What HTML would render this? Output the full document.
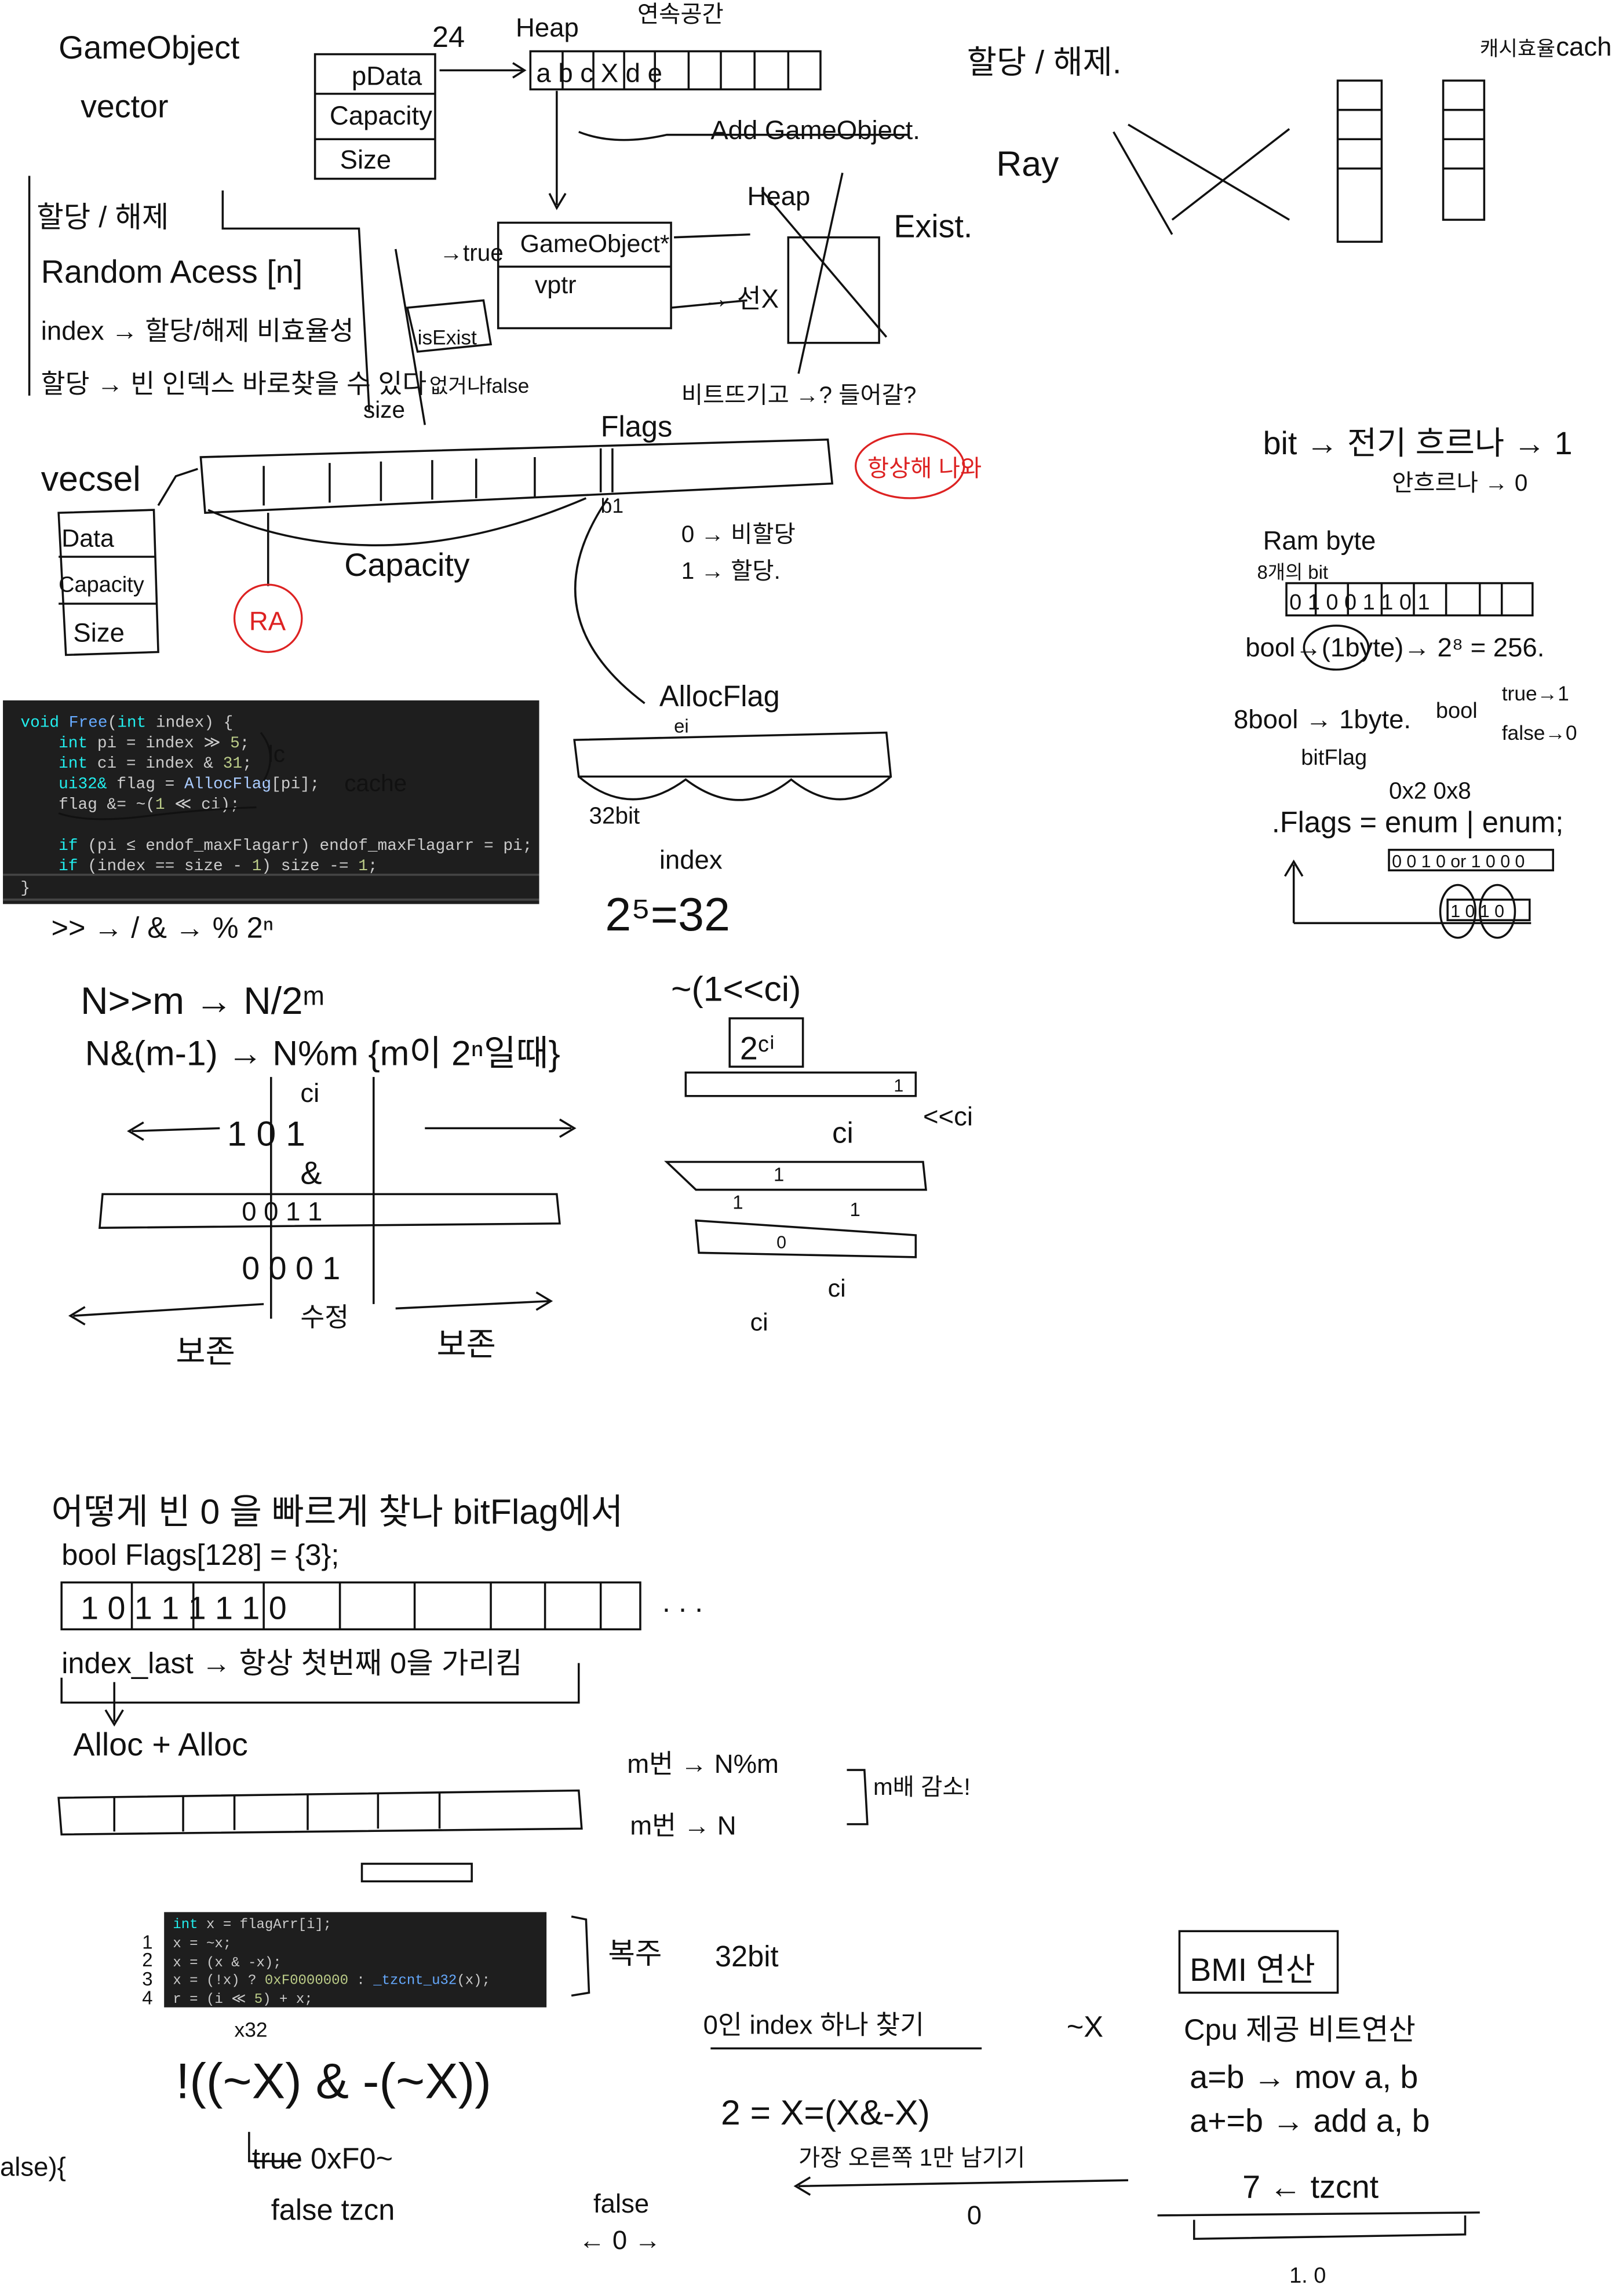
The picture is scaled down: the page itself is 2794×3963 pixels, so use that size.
<!DOCTYPE html>
<html><head><meta charset="utf-8">
<style>
html,body{margin:0;padding:0;background:#fff;}
svg{display:block;}
text{font-family:"Liberation Sans","Noto Sans CJK KR",sans-serif;}
.c text{font-family:"Liberation Mono","DejaVu Sans Mono",monospace;}
</style></head><body>
<svg width="2794" height="3963" viewBox="0 0 1105 1567" preserveAspectRatio="none" xmlns="http://www.w3.org/2000/svg">
<rect width="1105" height="1567" fill="#fff"/>
<g fill="none" stroke="#111" stroke-width="1.4">
<rect x="215" y="37" width="82" height="85"/>
<line x1="215" y1="64" x2="297" y2="64"/><line x1="215" y1="95" x2="297" y2="95"/>
<rect x="362" y="35" width="198" height="26"/>
<line x1="384" y1="35" x2="384" y2="61"/><line x1="405" y1="35" x2="405" y2="61"/><line x1="426" y1="35" x2="426" y2="61"/><line x1="447" y1="35" x2="447" y2="61"/><line x1="470" y1="35" x2="470" y2="61"/><line x1="492" y1="35" x2="492" y2="61"/><line x1="515" y1="35" x2="515" y2="61"/><line x1="538" y1="35" x2="538" y2="61"/>
<path d="M300 48 L358 48 M350 43 L358 48 L350 53"/>
<path d="M380 62 L380 140 M375 132 L380 142 L386 132"/>
<path d="M395 90 Q420 100 455 92 L620 92"/>
<rect x="340" y="152" width="118" height="72"/><line x1="340" y1="182" x2="458" y2="182"/>
<path d="M460 162 L512 160"/><path d="M458 210 L510 205"/>
<rect x="538" y="162" width="62" height="72"/>
<path d="M520 130 L605 230 M575 118 L545 255"/>
<path d="M152 130 L152 156 L245 156 L252 280"/>
<path d="M20 120 L20 270"/>
<path d="M278 210 L330 205 L335 235 L285 240 Z"/>
<path d="M270 170 L290 290"/>
<path d="M770 85 L880 150 M800 150 L880 88 M760 90 L800 160"/>
<rect x="913" y="55" width="30" height="110"/><rect x="985" y="55" width="28" height="95"/>
<line x1="913" y1="75" x2="943" y2="75"/><line x1="913" y1="95" x2="943" y2="95"/><line x1="913" y1="115" x2="943" y2="115"/><line x1="985" y1="75" x2="1013" y2="75"/><line x1="985" y1="95" x2="1013" y2="95"/><line x1="985" y1="115" x2="1013" y2="115"/>
<path d="M137 312 L565 300 L568 330 L140 350 Z"/>
<line x1="180" y1="318" x2="180" y2="345"/><line x1="225" y1="316" x2="225" y2="343"/><line x1="260" y1="315" x2="260" y2="342"/><line x1="295" y1="314" x2="295" y2="341"/><line x1="325" y1="313" x2="325" y2="340"/><line x1="365" y1="312" x2="365" y2="339"/><line x1="410" y1="306" x2="410" y2="336"/><line x1="418" y1="306" x2="418" y2="336"/>
<path d="M142 348 Q260 400 400 340"/>
<path d="M183 350 L183 400"/>
<path d="M40 350 L105 348 L108 445 L45 447 Z"/><line x1="40" y1="380" x2="106" y2="380"/><line x1="40" y1="412" x2="107" y2="412"/>
<path d="M108 345 L120 325 L135 320"/>
<path d="M415 340 Q360 420 440 480"/>
<path d="M392 505 L605 500 L608 530 L395 530 Z"/>
<path d="M395 530 Q430 560 468 532 Q505 560 540 532 Q575 560 608 530"/>
<rect x="878" y="398" width="168" height="22"/>
<line x1="898" y1="398" x2="898" y2="420"/><line x1="920" y1="398" x2="920" y2="420"/><line x1="943" y1="398" x2="943" y2="420"/><line x1="965" y1="398" x2="965" y2="420"/><line x1="987" y1="398" x2="987" y2="420"/><line x1="1010" y1="398" x2="1010" y2="420"/><line x1="1025" y1="398" x2="1025" y2="420"/>
<ellipse cx="912" cy="442" rx="22" ry="15"/>
<path d="M883 630 L883 590 M877 598 L883 588 L889 598 M883 630 L1045 630"/>
<rect x="948" y="580" width="112" height="14"/><rect x="988" y="614" width="56" height="14"/>
<ellipse cx="995" cy="622" rx="12" ry="18"/><ellipse cx="1022" cy="622" rx="12" ry="18"/>
<line x1="185" y1="735" x2="185" y2="900"/><line x1="255" y1="735" x2="255" y2="890"/>
<path d="M70 815 L380 815 L382 835 L68 838 Z"/>
<path d="M150 770 L90 772 M98 766 L88 772 L98 778 M290 770 L390 770 M382 764 L392 770 L382 776"/>
<path d="M180 890 L50 898 M58 892 L48 898 L58 904 M270 893 L375 888 M366 882 L376 888 L366 894"/>
<rect x="498" y="695" width="50" height="33"/>
<path d="M468 732 L625 732 L625 748 L468 748 Z"/>
<path d="M455 793 L630 793 L632 812 L475 812 Z"/>
<path d="M475 833 L625 843 L625 858 L477 855 Z"/>
<rect x="42" y="1080" width="395" height="32"/>
<line x1="90" y1="1080" x2="90" y2="1112"/><line x1="132" y1="1080" x2="132" y2="1112"/><line x1="180" y1="1080" x2="180" y2="1112"/><line x1="232" y1="1080" x2="232" y2="1112"/><line x1="283" y1="1080" x2="283" y2="1112"/><line x1="335" y1="1080" x2="335" y2="1112"/><line x1="372" y1="1080" x2="372" y2="1112"/><line x1="410" y1="1080" x2="410" y2="1112"/>
<path d="M42 1145 L42 1162 L395 1162 L395 1135"/>
<path d="M78 1148 L78 1175 M72 1167 L78 1177 L84 1167"/>
<path d="M40 1227 L395 1222 L397 1248 L42 1252 Z"/>
<line x1="78" y1="1227" x2="78" y2="1250"/><line x1="125" y1="1226" x2="125" y2="1250"/><line x1="160" y1="1225" x2="160" y2="1249"/><line x1="210" y1="1225" x2="210" y2="1249"/><line x1="258" y1="1224" x2="258" y2="1248"/><line x1="300" y1="1224" x2="300" y2="1248"/>
<rect x="247" y="1272" width="75" height="12"/>
<path d="M578 1208 L590 1208 L592 1245 L578 1245"/>
<path d="M390 1308 L400 1310 L402 1360 L390 1362"/>
<path d="M485 1398 L670 1398"/>
<path d="M545 1492 L770 1488 M553 1486 L543 1492 L553 1498"/>
<rect x="805" y="1318" width="108" height="42"/>
<path d="M790 1512 L1010 1510 M815 1515 L815 1528 L1000 1525 L1000 1512"/>
<path d="M170 1455 L170 1475 L200 1475"/>
<path d="M40 555 Q60 562 100 557 T175 551"/>
<path d="M178 500 Q190 515 180 533"/>
</g>
<g fill="none" stroke="#d22" stroke-width="1.3">
<ellipse cx="621" cy="318" rx="37" ry="22"/><circle cx="183" cy="422" r="23"/>
</g>
<text x="592" y="325" font-size="16" fill="#d22">항상해 나와</text>
<text x="170" y="430" font-size="18" fill="#d22">RA</text>
<g font-size="22" fill="#111">
<text x="40" y="40">GameObject</text>
<text x="55" y="80">vector</text>
<text x="240" y="58" font-size="18">pData</text><text x="225" y="85" font-size="18">Capacity</text><text x="232" y="115" font-size="18">Size</text>
<text x="295" y="32" font-size="20">24</text><text x="352" y="25" font-size="18">Heap</text><text x="435" y="15" font-size="16">연속공간</text>
<text x="366" y="56" font-size="18">a b c X d e</text>
<text x="485" y="95" font-size="18">Add GameObject.</text>
<text x="660" y="50" font-size="22">할당 / 해제.</text>
<text x="680" y="120" font-size="24">Ray</text>
<text x="1010" y="38" font-size="14">캐시효율</text><text x="1062" y="38" font-size="18">cach</text>
<text x="25" y="155" font-size="20">할당 / 해제</text>
<text x="28" y="193" font-size="22">Random  Acess  [n]</text>
<text x="28" y="232" font-size="18">index → 할당/해제 비효율성</text>
<text x="28" y="268" font-size="18">할당 → 빈 인덱스 바로찾을 수 있다</text>
<text x="248" y="285" font-size="16">size</text>
<text x="300" y="178" font-size="16">→true</text>
<text x="285" y="235" font-size="14">isExist</text>
<text x="293" y="268" font-size="14">없거나false</text>
<text x="355" y="172" font-size="17">GameObject*</text><text x="365" y="200" font-size="17">vptr</text>
<text x="480" y="210" font-size="18">→ 선X</text>
<text x="510" y="140" font-size="18">Heap</text><text x="610" y="162" font-size="22">Exist.</text>
<text x="465" y="275" font-size="16">비트뜨기고 →? 들어갈?</text>
<text x="410" y="298" font-size="20">Flags</text>
<text x="410" y="350" font-size="14">b1</text>
<text x="28" y="335" font-size="24">vecsel</text>
<text x="42" y="373" font-size="17">Data</text><text x="40" y="404" font-size="15">Capacity</text><text x="50" y="438" font-size="18">Size</text>
<text x="235" y="393" font-size="22">Capacity</text>
<text x="465" y="370" font-size="16">0 → 비할당</text><text x="465" y="395" font-size="16">1 → 할당.</text>
<text x="862" y="310" font-size="22">bit → 전기 흐르나 → 1</text>
<text x="950" y="335" font-size="16">안흐르나 → 0</text>
<text x="862" y="375" font-size="18">Ram   byte</text><text x="858" y="395" font-size="13">8개의 bit</text>
<text x="880" y="416" font-size="15">0 1 0 0 1 1 0 1</text>
<text x="850" y="448" font-size="18">bool→(1byte)→ 2⁸ = 256.</text>
<text x="842" y="497" font-size="18">8bool → 1byte.</text><text x="888" y="522" font-size="15">bitFlag</text>
<text x="980" y="490" font-size="15">bool</text><text x="1025" y="478" font-size="14">true→1</text><text x="1025" y="505" font-size="14">false→0</text>
<text x="948" y="545" font-size="16">0x2       0x8</text>
<text x="868" y="568" font-size="20">.Flags = enum | enum;</text>
<text x="950" y="592" font-size="12">0 0 1 0 or 1 0 0 0</text>
<text x="990" y="626" font-size="12">1 0 1 0</text>
<text x="450" y="482" font-size="20">AllocFlag</text><text x="460" y="500" font-size="13">ei</text>
<text x="402" y="562" font-size="16">32bit</text><text x="450" y="593" font-size="18">index</text>
<text x="413" y="635" font-size="32">2⁵=32</text>
<text x="35" y="640" font-size="20">&gt;&gt; → /       &amp; → %       2ⁿ</text>
<text x="55" y="692" font-size="26">N&gt;&gt;m  →  N/2ᵐ</text>
<text x="58" y="727" font-size="24">N&amp;(m-1) →  N%m   {m이 2ⁿ일때}</text>
<text x="205" y="752" font-size="18">ci</text>
<text x="155" y="782" font-size="24">1      0      1</text>
<text x="205" y="808" font-size="22">&amp;</text>
<text x="165" y="833" font-size="18">0     0 1    1</text>
<text x="165" y="873" font-size="22">0     0 0    1</text>
<text x="120" y="930" font-size="22">보존</text><text x="205" y="905" font-size="18">수정</text><text x="298" y="925" font-size="22">보존</text>
<text x="458" y="683" font-size="24">~(1&lt;&lt;ci)</text>
<text x="505" y="723" font-size="22">2ᶜⁱ</text><text x="610" y="745" font-size="12">1</text>
<text x="630" y="768" font-size="18">&lt;&lt;ci</text><text x="568" y="780" font-size="20">ci</text>
<text x="528" y="806" font-size="13">1</text><text x="500" y="825" font-size="13">1</text><text x="580" y="830" font-size="13">1</text>
<text x="530" y="852" font-size="12">0</text>
<text x="565" y="885" font-size="17">ci</text><text x="512" y="908" font-size="17">ci</text>
<text x="35" y="1040" font-size="24">어떻게  빈   0 을    빠르게 찾나   bitFlag에서</text>
<text x="42" y="1068" font-size="20">bool  Flags[128] = {3};</text>
<text x="55" y="1105" font-size="22">1   0    1    1    1    1    1   0</text>
<text x="452" y="1100" font-size="20">. . .</text>
<text x="42" y="1142" font-size="20">index_last → 항상 첫번째 0을 가리킴</text>
<text x="50" y="1198" font-size="22">Alloc      + Alloc</text>
<text x="428" y="1210" font-size="18">m번 →  N%m</text><text x="430" y="1252" font-size="18">m번 →  N</text>
<text x="596" y="1225" font-size="16">m배 감소!</text>
<text x="97" y="1330" font-size="13">1</text><text x="97" y="1342" font-size="13">2</text><text x="97" y="1355" font-size="13">3</text><text x="97" y="1368" font-size="13">4</text>
<text x="415" y="1340" font-size="20">복주</text>
<text x="488" y="1342" font-size="20">32bit</text>
<text x="480" y="1388" font-size="18">0인 index 하나 찾기</text><text x="728" y="1390" font-size="20">~X</text>
<text x="160" y="1390" font-size="14">x32</text>
<text x="120" y="1432" font-size="34">!((~X) &amp;   -(~X))</text>
<text x="492" y="1450" font-size="24">2 =   X=(X&amp;-X)</text>
<text x="545" y="1478" font-size="16">가장 오른쪽  1만 남기기</text>
<text x="660" y="1518" font-size="18">0</text>
<text x="172" y="1480" font-size="20">true    0xF0~</text>
<text x="185" y="1515" font-size="20">false    tzcn</text>
<text x="405" y="1510" font-size="18">false</text><text x="395" y="1535" font-size="18">← 0 →</text>
<text x="0" y="1485" font-size="18">alse){</text>
<text x="812" y="1352" font-size="22">BMI 연산</text>
<text x="808" y="1392" font-size="20">Cpu 제공  비트연산</text>
<text x="812" y="1425" font-size="22">a=b    →   mov   a, b</text>
<text x="812" y="1455" font-size="22">a+=b   →   add   a, b</text>
<text x="848" y="1500" font-size="22">7 ← tzcnt</text>
<text x="880" y="1558" font-size="15">1.      0</text>
</g>
<!-- code block 1 -->
<rect x="2" y="478" width="366" height="139" fill="#1e1e1e"/>
<line x1="2" y1="597" x2="368" y2="597" stroke="#444" stroke-width="1.5"/>
<line x1="2" y1="614" x2="368" y2="614" stroke="#444" stroke-width="1.5"/>
<g class="c" font-size="11" fill="#ccc">
<text x="14" y="496"><tspan fill="#2ee">void</tspan><tspan fill="#6af"> Free</tspan>(<tspan fill="#2ee">int</tspan> index) {</text>
<text x="40" y="510"><tspan fill="#2ee">int</tspan> pi = index ≫ <tspan fill="#bc8">5</tspan>;</text>
<text x="40" y="524"><tspan fill="#2ee">int</tspan> ci = index &amp; <tspan fill="#bc8">31</tspan>;</text>
<text x="40" y="538"><tspan fill="#2ee">ui32&amp;</tspan> flag = <tspan fill="#acf">AllocFlag</tspan>[pi];</text>
<text x="40" y="552">flag &amp;= ~(<tspan fill="#bc8">1</tspan> ≪ ci);</text>
<text x="40" y="580"><tspan fill="#2ee">if</tspan> (pi ≤ endof_maxFlagarr) endof_maxFlagarr = pi;</text>
<text x="40" y="594"><tspan fill="#2ee">if</tspan> (index == size - <tspan fill="#bc8">1</tspan>) size -= <tspan fill="#bc8">1</tspan>;</text>
<text x="14" y="609">}</text>
</g>
<g fill="none" stroke="#111" stroke-width="1.3">
<path d="M40 555 Q60 562 100 557 T175 551"/>
<path d="M178 500 Q190 515 180 533"/>
</g>
<text x="183" y="520" font-size="16" fill="#111">lc</text>
<text x="235" y="540" font-size="16" fill="#111">cache</text>
<!-- code block 2 -->
<rect x="112" y="1305" width="261" height="65" fill="#1e1e1e"/>
<g class="c" font-size="9.5" fill="#ccc">
<text x="118" y="1316"><tspan fill="#2ee">int</tspan> x = flagArr[i];</text>
<text x="118" y="1329">x = ~x;</text>
<text x="118" y="1342">x = (x &amp; -x);</text>
<text x="118" y="1354">x = (!x) ? <tspan fill="#bc8">0xF0000000</tspan> : <tspan fill="#6af">_tzcnt_u32</tspan>(x);</text>
<text x="118" y="1367">r = (i ≪ <tspan fill="#bc8">5</tspan>) + x;</text>
</g>
</svg>
</body></html>
